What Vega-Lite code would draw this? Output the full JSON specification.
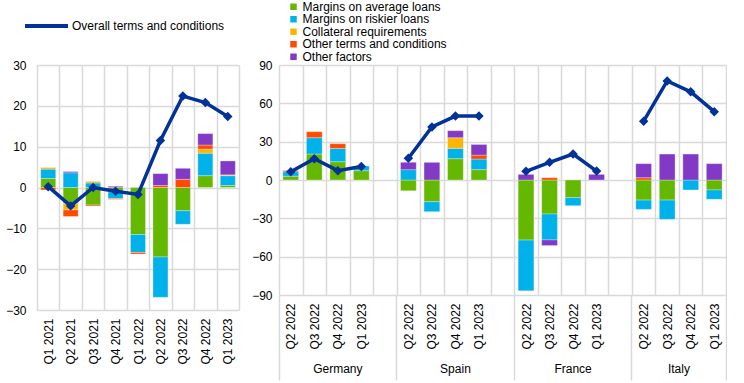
{
  "$schema": "https://vega.github.io/schema/vega-lite/v6.json",
  "background": "white",
  "padding": {"left": 5, "top": 0, "right": 0, "bottom": 0},
  "config": {
    "font": "Liberation Sans",
    "view": {"stroke": null},
    "axis": {"labelFont": "Liberation Sans", "labelFontSize": 12, "labelColor": "#000000", "gridColor": "#d9d9d9", "gridWidth": 1.5, "domain": false, "ticks": false},
    "legend": {"labelFont": "Liberation Sans", "labelFontSize": 12, "labelColor": "#000000"}
  },
  "spacing": 12,
  "resolve": {"scale": {"color": "independent", "stroke": "independent"}, "legend": {"color": "independent", "stroke": "independent"}},
  "datasets": {
    "ea_bars": [
      {"q": "Q1 2021", "f": "Margins on average loans", "v": 2.2},
      {"q": "Q1 2021", "f": "Margins on riskier loans", "v": 2.3},
      {"q": "Q1 2021", "f": "Collateral requirements", "v": 0.4},
      {"q": "Q1 2021", "f": "Other terms and conditions", "v": -0.6},
      {"q": "Q2 2021", "f": "Margins on average loans", "v": -3.9},
      {"q": "Q2 2021", "f": "Margins on riskier loans", "v": 3.6},
      {"q": "Q2 2021", "f": "Collateral requirements", "v": -1.6},
      {"q": "Q2 2021", "f": "Other terms and conditions", "v": -1.6},
      {"q": "Q2 2021", "f": "Other factors", "v": 0.3},
      {"q": "Q3 2021", "f": "Margins on average loans", "v": -4.3},
      {"q": "Q3 2021", "f": "Margins on riskier loans", "v": 1.1},
      {"q": "Q3 2021", "f": "Collateral requirements", "v": 0.4},
      {"q": "Q3 2021", "f": "Other terms and conditions", "v": -0.25},
      {"q": "Q4 2021", "f": "Margins on average loans", "v": -1.1},
      {"q": "Q4 2021", "f": "Margins on riskier loans", "v": -1.6},
      {"q": "Q4 2021", "f": "Other terms and conditions", "v": -0.2},
      {"q": "Q4 2021", "f": "Other factors", "v": 0.3},
      {"q": "Q1 2022", "f": "Margins on average loans", "v": -11.5},
      {"q": "Q1 2022", "f": "Margins on riskier loans", "v": -4.4},
      {"q": "Q1 2022", "f": "Other terms and conditions", "v": -0.4},
      {"q": "Q2 2022", "f": "Margins on average loans", "v": -17},
      {"q": "Q2 2022", "f": "Margins on riskier loans", "v": -9.9},
      {"q": "Q2 2022", "f": "Other terms and conditions", "v": 0.5},
      {"q": "Q2 2022", "f": "Other factors", "v": 2.9},
      {"q": "Q3 2022", "f": "Margins on average loans", "v": -5.7},
      {"q": "Q3 2022", "f": "Margins on riskier loans", "v": -3.3},
      {"q": "Q3 2022", "f": "Other terms and conditions", "v": 2.0},
      {"q": "Q3 2022", "f": "Other factors", "v": 2.7},
      {"q": "Q4 2022", "f": "Margins on average loans", "v": 2.9},
      {"q": "Q4 2022", "f": "Margins on riskier loans", "v": 5.5},
      {"q": "Q4 2022", "f": "Collateral requirements", "v": 1.0},
      {"q": "Q4 2022", "f": "Other terms and conditions", "v": 1.0},
      {"q": "Q4 2022", "f": "Other factors", "v": 2.8},
      {"q": "Q1 2023", "f": "Margins on average loans", "v": 0.5},
      {"q": "Q1 2023", "f": "Margins on riskier loans", "v": 2.4},
      {"q": "Q1 2023", "f": "Collateral requirements", "v": 0.2},
      {"q": "Q1 2023", "f": "Other factors", "v": 3.4}
    ],
    "ea_line": [
      {"q": "Q1 2021", "v": 0.2},
      {"q": "Q2 2021", "v": -4.5},
      {"q": "Q3 2021", "v": 0.0},
      {"q": "Q4 2021", "v": -0.9},
      {"q": "Q1 2022", "v": -1.7},
      {"q": "Q2 2022", "v": 11.5},
      {"q": "Q3 2022", "v": 22.4},
      {"q": "Q4 2022", "v": 20.8},
      {"q": "Q1 2023", "v": 17.4}
    ],
    "cty_bars": [
      {"c": "DE|Q2 2022", "f": "Margins on average loans", "v": 3},
      {"c": "DE|Q2 2022", "f": "Margins on riskier loans", "v": 3.5},
      {"c": "DE|Q2 2022", "f": "Other terms and conditions", "v": 1},
      {"c": "DE|Q3 2022", "f": "Margins on average loans", "v": 20.3},
      {"c": "DE|Q3 2022", "f": "Margins on riskier loans", "v": 12.8},
      {"c": "DE|Q3 2022", "f": "Other terms and conditions", "v": 4.7},
      {"c": "DE|Q4 2022", "f": "Margins on average loans", "v": 14.3},
      {"c": "DE|Q4 2022", "f": "Margins on riskier loans", "v": 10.4},
      {"c": "DE|Q4 2022", "f": "Other terms and conditions", "v": 3.7},
      {"c": "DE|Q1 2023", "f": "Margins on average loans", "v": 7.3},
      {"c": "DE|Q1 2023", "f": "Margins on riskier loans", "v": 3.7},
      {"c": "ES|Q2 2022", "f": "Margins on average loans", "v": -8.5},
      {"c": "ES|Q2 2022", "f": "Margins on riskier loans", "v": 8.1},
      {"c": "ES|Q2 2022", "f": "Other factors", "v": 5.7},
      {"c": "ES|Q3 2022", "f": "Margins on average loans", "v": -17},
      {"c": "ES|Q3 2022", "f": "Margins on riskier loans", "v": -7.8},
      {"c": "ES|Q3 2022", "f": "Other factors", "v": 13.8},
      {"c": "ES|Q4 2022", "f": "Margins on average loans", "v": 16.7},
      {"c": "ES|Q4 2022", "f": "Margins on riskier loans", "v": 8.1},
      {"c": "ES|Q4 2022", "f": "Collateral requirements", "v": 8.3},
      {"c": "ES|Q4 2022", "f": "Other factors", "v": 5.5},
      {"c": "ES|Q1 2023", "f": "Margins on average loans", "v": 8.1},
      {"c": "ES|Q1 2023", "f": "Margins on riskier loans", "v": 8.3},
      {"c": "ES|Q1 2023", "f": "Other terms and conditions", "v": 3.1},
      {"c": "ES|Q1 2023", "f": "Other factors", "v": 8.3},
      {"c": "FR|Q2 2022", "f": "Margins on average loans", "v": -47},
      {"c": "FR|Q2 2022", "f": "Margins on riskier loans", "v": -39.7},
      {"c": "FR|Q2 2022", "f": "Other factors", "v": 4.4},
      {"c": "FR|Q3 2022", "f": "Margins on average loans", "v": -26.6},
      {"c": "FR|Q3 2022", "f": "Margins on riskier loans", "v": -20.3},
      {"c": "FR|Q3 2022", "f": "Other terms and conditions", "v": 1.8},
      {"c": "FR|Q3 2022", "f": "Other factors", "v": -4.4},
      {"c": "FR|Q4 2022", "f": "Margins on average loans", "v": -13.8},
      {"c": "FR|Q4 2022", "f": "Margins on riskier loans", "v": -6.3},
      {"c": "FR|Q1 2023", "f": "Other factors", "v": 4.4},
      {"c": "IT|Q2 2022", "f": "Margins on average loans", "v": -15.7},
      {"c": "IT|Q2 2022", "f": "Margins on riskier loans", "v": -7.3},
      {"c": "IT|Q2 2022", "f": "Other terms and conditions", "v": 1.8},
      {"c": "IT|Q2 2022", "f": "Other factors", "v": 11},
      {"c": "IT|Q3 2022", "f": "Margins on average loans", "v": -15.7},
      {"c": "IT|Q3 2022", "f": "Margins on riskier loans", "v": -15.1},
      {"c": "IT|Q3 2022", "f": "Other factors", "v": 20.3},
      {"c": "IT|Q4 2022", "f": "Margins on riskier loans", "v": -7.8},
      {"c": "IT|Q4 2022", "f": "Other factors", "v": 20.3},
      {"c": "IT|Q1 2023", "f": "Margins on average loans", "v": -7.8},
      {"c": "IT|Q1 2023", "f": "Margins on riskier loans", "v": -7.3},
      {"c": "IT|Q1 2023", "f": "Other factors", "v": 12.8}
    ],
    "cty_line": [
      {"c": "DE|Q2 2022", "k": "Germany", "v": 6.5},
      {"c": "DE|Q3 2022", "k": "Germany", "v": 16.7},
      {"c": "DE|Q4 2022", "k": "Germany", "v": 7.3},
      {"c": "DE|Q1 2023", "k": "Germany", "v": 10.5},
      {"c": "ES|Q2 2022", "k": "Spain", "v": 17},
      {"c": "ES|Q3 2022", "k": "Spain", "v": 41.5},
      {"c": "ES|Q4 2022", "k": "Spain", "v": 50},
      {"c": "ES|Q1 2023", "k": "Spain", "v": 50},
      {"c": "FR|Q2 2022", "k": "France", "v": 6.8},
      {"c": "FR|Q3 2022", "k": "France", "v": 13.8},
      {"c": "FR|Q4 2022", "k": "France", "v": 20.3},
      {"c": "FR|Q1 2023", "k": "France", "v": 7.0},
      {"c": "IT|Q2 2022", "k": "Italy", "v": 46},
      {"c": "IT|Q3 2022", "k": "Italy", "v": 77.5},
      {"c": "IT|Q4 2022", "k": "Italy", "v": 69},
      {"c": "IT|Q1 2023", "k": "Italy", "v": 53.5}
    ]
  },
  "hconcat": [
    {
      "width": 202,
      "height": 245,
      "layer": [
        {
          "data": {"name": "ea_bars"},
          "transform": [{"calculate": "indexof(['Margins on average loans','Margins on riskier loans','Collateral requirements','Other terms and conditions','Other factors'], datum.f)", "as": "ord"}],
          "mark": {"type": "bar", "width": {"band": 0.67}, "stroke": "white", "strokeWidth": 0.6, "strokeOpacity": 0.5},
          "encoding": {
            "x": {"field": "q", "type": "nominal", "scale": {"domain": ["Q1 2021","Q2 2021","Q3 2021","Q4 2021","Q1 2022","Q2 2022","Q3 2022","Q4 2022","Q1 2023"], "paddingInner": 0, "paddingOuter": 0}, "axis": {"title": null, "labelAngle": -90, "labelPadding": 8, "tickBand": "extent", "grid": true}},
            "y": {"field": "v", "type": "quantitative", "stack": "zero", "scale": {"domain": [-30, 30]}, "axis": {"title": null, "values": [-30,-20,-10,0,10,20,30], "labelPadding": 11, "labelOverlap": false}},
            "color": {"field": "f", "type": "nominal", "scale": {"domain": ["Margins on average loans","Margins on riskier loans","Collateral requirements","Other terms and conditions","Other factors"], "range": ["#65B800","#00B1EA","#FFB400","#FF4B00","#8139C6"]}, "legend": null},
            "order": {"field": "ord", "type": "quantitative"}
          }
        },
        {
          "data": {"name": "ea_line"},
          "mark": {"type": "line", "strokeWidth": 3.5},
          "encoding": {
            "x": {"field": "q", "type": "nominal", "scale": {"domain": ["Q1 2021","Q2 2021","Q3 2021","Q4 2021","Q1 2022","Q2 2022","Q3 2022","Q4 2022","Q1 2023"], "paddingInner": 0, "paddingOuter": 0}},
            "y": {"field": "v", "type": "quantitative", "scale": {"domain": [-30, 30]}, "axis": {"title": null, "values": [-30,-20,-10,0,10,20,30], "labelPadding": 11, "labelOverlap": false}},
            "stroke": {"datum": "Overall terms and conditions", "type": "nominal", "scale": {"range": ["#003299"]}, "legend": {"title": null, "orient": "none", "legendX": -14, "legendY": -62.5, "symbolType": "stroke", "symbolSize": 1849, "symbolStrokeWidth": 4, "labelOffset": 2}}
          }
        },
        {
          "data": {"name": "ea_line"},
          "mark": {"type": "point", "shape": "diamond", "filled": true, "size": 90, "color": "#003299", "opacity": 1},
          "encoding": {
            "x": {"field": "q", "type": "nominal", "scale": {"domain": ["Q1 2021","Q2 2021","Q3 2021","Q4 2021","Q1 2022","Q2 2022","Q3 2022","Q4 2022","Q1 2023"], "paddingInner": 0, "paddingOuter": 0}},
            "y": {"field": "v", "type": "quantitative", "scale": {"domain": [-30, 30]}, "axis": {"title": null, "values": [-30,-20,-10,0,10,20,30], "labelPadding": 11, "labelOverlap": false}}
          }
        }
      ]
    },
    {
      "width": 447,
      "height": 230,
      "resolve": {"axis": {"x": "independent"}},
      "layer": [
        {
          "data": {"name": "cty_bars"},
          "transform": [{"calculate": "indexof(['Margins on average loans','Margins on riskier loans','Collateral requirements','Other terms and conditions','Other factors'], datum.f)", "as": "ord"}],
          "mark": {"type": "bar", "width": {"band": 0.67}, "stroke": "white", "strokeWidth": 0.6, "strokeOpacity": 0.5},
          "encoding": {
            "x": {"field": "c", "type": "nominal", "scale": {"domain": ["DE|Q2 2022","DE|Q3 2022","DE|Q4 2022","DE|Q1 2023","gap1","ES|Q2 2022","ES|Q3 2022","ES|Q4 2022","ES|Q1 2023","gap2","FR|Q2 2022","FR|Q3 2022","FR|Q4 2022","FR|Q1 2023","gap3","IT|Q2 2022","IT|Q3 2022","IT|Q4 2022","IT|Q1 2023"], "paddingInner": 0, "paddingOuter": 0}, "axis": {"title": null, "orient": "bottom", "labelAngle": -90, "labelPadding": 8, "tickBand": "extent", "grid": true, "labelExpr": "datum.label && indexof(datum.label, '|') > 0 ? split(datum.label, '|')[1] : ''"}},
            "y": {"field": "v", "type": "quantitative", "stack": "zero", "scale": {"domain": [-90, 90]}, "axis": {"title": null, "values": [-90,-60,-30,0,30,60,90], "labelPadding": 7, "labelOverlap": false}},
            "color": {"field": "f", "type": "nominal", "scale": {"domain": ["Margins on average loans","Margins on riskier loans","Collateral requirements","Other terms and conditions","Other factors"], "range": ["#65B800","#00B1EA","#FFB400","#FF4B00","#8139C6"]}, "legend": {"title": null, "orient": "none", "legendX": 8.5, "legendY": -64.25, "symbolType": "square", "symbolSize": 42, "symbolStrokeWidth": 0, "labelOffset": 3, "rowPadding": 0.5}},
            "order": {"field": "ord", "type": "quantitative"}
          }
        },
        {
          "data": {"name": "cty_line"},
          "mark": {"type": "line", "strokeWidth": 3.5, "color": "#003299"},
          "encoding": {
            "x": {"field": "c", "type": "nominal", "scale": {"domain": ["DE|Q2 2022","DE|Q3 2022","DE|Q4 2022","DE|Q1 2023","gap1","ES|Q2 2022","ES|Q3 2022","ES|Q4 2022","ES|Q1 2023","gap2","FR|Q2 2022","FR|Q3 2022","FR|Q4 2022","FR|Q1 2023","gap3","IT|Q2 2022","IT|Q3 2022","IT|Q4 2022","IT|Q1 2023"], "paddingInner": 0, "paddingOuter": 0}, "axis": {"orient": "bottom", "values": ["IT|Q1 2023"], "bandPosition": 1, "tickExtra": false, "ticks": true, "tickSize": 85, "tickWidth": 1.5, "tickColor": "#d9d9d9", "grid": false, "domain": false, "title": null, "labelAngle": 0, "labelAlign": "center", "labelBaseline": "top", "labelPadding": -17, "labelOffset": -35.3, "labelExpr": "'Italy'"}},
            "y": {"field": "v", "type": "quantitative", "scale": {"domain": [-90, 90]}, "axis": {"title": null, "values": [-90,-60,-30,0,30,60,90], "labelPadding": 7, "labelOverlap": false}},
            "detail": {"field": "k"}
          }
        },
        {
          "data": {"name": "cty_line"},
          "mark": {"type": "point", "shape": "diamond", "filled": true, "size": 90, "color": "#003299", "opacity": 1},
          "encoding": {
            "x": {"field": "c", "type": "nominal", "scale": {"domain": ["DE|Q2 2022","DE|Q3 2022","DE|Q4 2022","DE|Q1 2023","gap1","ES|Q2 2022","ES|Q3 2022","ES|Q4 2022","ES|Q1 2023","gap2","FR|Q2 2022","FR|Q3 2022","FR|Q4 2022","FR|Q1 2023","gap3","IT|Q2 2022","IT|Q3 2022","IT|Q4 2022","IT|Q1 2023"], "paddingInner": 0, "paddingOuter": 0}, "axis": {"orient": "bottom", "values": ["DE|Q2 2022","ES|Q2 2022","FR|Q2 2022","IT|Q2 2022"], "bandPosition": 0, "tickExtra": false, "ticks": true, "tickSize": 85, "tickWidth": 1.5, "tickColor": "#d9d9d9", "grid": false, "domain": false, "title": null, "labelAngle": 0, "labelAlign": "center", "labelBaseline": "top", "labelPadding": -17, "labelOffset": 47.06, "labelExpr": "datum.value == 'DE|Q2 2022' ? 'Germany' : datum.value == 'ES|Q2 2022' ? 'Spain' : datum.value == 'FR|Q2 2022' ? 'France' : ''"}},
            "y": {"field": "v", "type": "quantitative", "scale": {"domain": [-90, 90]}, "axis": {"title": null, "values": [-90,-60,-30,0,30,60,90], "labelPadding": 7, "labelOverlap": false}}
          }
        }
      ]
    }
  ]
}
